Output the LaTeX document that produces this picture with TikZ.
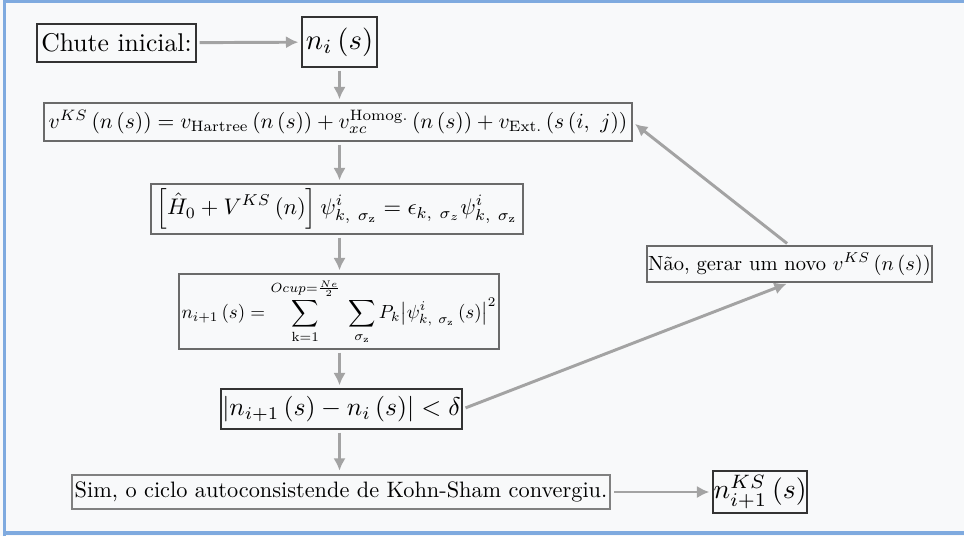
\documentclass[tikz,border=0pt]{standalone}
\usepackage{amsmath}
\usepackage{graphicx}
\usetikzlibrary{arrows.meta}
\definecolor{bgc}{HTML}{F8F9FA}
\definecolor{framec}{HTML}{7FAADF}
\definecolor{arrc}{HTML}{A3A3A3}
\definecolor{bdark}{HTML}{333333}
\definecolor{bgray}{HTML}{6A6A6A}
\tikzset{
  bx/.style 2 args={draw=bgray, line width=0.5pt, inner sep=0pt, align=center,
    minimum width=#1*0.39pt, minimum height=#2*0.39pt},
  dk/.style={draw=bdark},
  arr/.style={draw=arrc, line width=1.15pt, -{Latex[length=4.8pt,width=4.8pt]},
    shorten <=1.2pt, shorten >=1.2pt},
}
\begin{document}
\begin{tikzpicture}[x=0.39pt,y=-0.39pt]
\fill[bgc] (0,0) rectangle (964,536);
\useasboundingbox (0,0) rectangle (964,536);
\draw[framec, line width=1.2pt] (4.5,536) -- (4.5,1.5) -- (964,1.5);
\draw[framec, line width=1.2pt] (4.5,533) -- (964,533);

\node[bx={159}{38}, dk] (chute) at (116.5,43) {Chute inicial:};
\node[bx={75}{50}, dk] (ni) at (339.5,42) {\scalebox{1.12}{$n_{i}\left(s\right)$}};
\node[bx={588}{38}] (vks) at (338,122) {\scalebox{0.84}{$v^{KS}\left(n\left(s\right)\right)=v_{\text{Hartree}}\left(n\left(s\right)\right)+v_{xc}^{\text{Homog.}}\left(n\left(s\right)\right)+v_{\text{Ext.}}\left(s\left(i,\ j\right)\right)$}};
\node[bx={372}{50}] (ham) at (337,209) {\scalebox{0.88}{$\displaystyle\left[\hat{H}_{0}+V^{KS}\left(n\right)\right]\psi_{k,\ \sigma_{\text{z}}}^{i}=\epsilon_{k,\ \sigma_{z}}\psi_{k,\ \sigma_{\text{z}}}^{i}$}};
\node[bx={320}{75}] (dens) at (339,311.5) {\scalebox{0.74}{$\displaystyle n_{i+1}\left(s\right)=\sum_{\text{k}=1}^{Ocup=\frac{Ne}{2}}\;\sum_{\sigma_{\text{z}}}P_{k}\!\left|\psi_{k,\ \sigma_{\text{z}}}^{i}\left(s\right)\right|^{2}$}};
\node[bx={241}{40}, dk] (delta) at (341.5,409) {$\left|n_{i+1}\left(s\right)-n_{i}\left(s\right)\right|<\delta$};
\node[bx={538}{34}, draw=gray, line width=1pt] (sim) at (341,492) {\scalebox{0.87}{Sim, o ciclo autoconsistende de Kohn-Sham convergiu.}};
\node[bx={94}{42}, dk] (nks) at (760,492) {\scalebox{1.08}{$n_{i+1}^{KS}\left(s\right)$}};
\node[bx={285}{36}] (nao) at (789.5,264) {\scalebox{0.8}{N\~ao, gerar um novo $v^{KS}\left(n\left(s\right)\right)$}};

\draw[arr] (chute) -- (ni);
\draw[arr] (ni) -- (vks.north -| ni);
\draw[arr] (vks.south -| ni) -- (ham.north -| ni);
\draw[arr] (ham.south -| ni) -- (dens.north -| ni);
\draw[arr] (dens.south -| ni) -- (delta.north -| ni);
\draw[arr] (delta.south -| ni) -- (sim.north -| ni);
\draw[arr] (sim) -- (nks);
\draw[arr] (delta.east) -- (nao.south);
\draw[arr] (nao.north) -- (vks.east);
\end{tikzpicture}
\end{document}
